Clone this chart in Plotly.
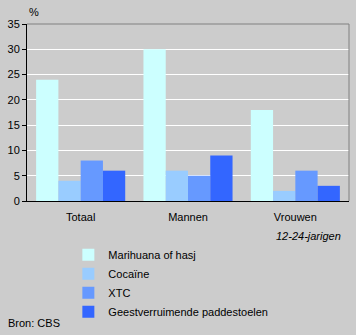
import plotly.graph_objects as go

categories = ["Totaal", "Mannen", "Vrouwen"]
series_names = ["Marihuana of hasj", "Cocaïne", "XTC", "Geestverruimende paddestoelen"]
marihuana = [24, 30, 18]
cocaine = [4, 6, 2]
xtc = [8, 5, 6]
paddestoelen = [6, 9, 3]
colors = ["#CCFFFF", "#99CCFF", "#6699FF", "#3366FF"]

fig = go.Figure()
for name, vals, col in zip(series_names, [marihuana, cocaine, xtc, paddestoelen], colors):
    fig.add_trace(go.Bar(x=categories, y=vals, name=name, marker=dict(color=col, line=dict(width=0))))

font = "Liberation Sans, Arial, sans-serif"
fig.update_layout(
    width=356, height=335,
    margin=dict(l=27, r=7, t=24, b=134, autoexpand=False),
    paper_bgcolor="#CCCCCC", plot_bgcolor="#CCCCCC",
    barmode="group", bargap=0.17, bargroupgap=0,
    font=dict(family=font, size=11, color="black"),
    showlegend=True,
    legend=dict(xref="container", yref="container", x=0.192, y=0.283,
                xanchor="left", yanchor="top",
                bgcolor="rgba(0,0,0,0)", font=dict(size=11), tracegroupgap=0,
                itemwidth=30),
    xaxis=dict(showline=True, linecolor="black", linewidth=1, ticks="",
               showgrid=False, tickfont=dict(size=11), ticklabelstandoff=6),
    yaxis=dict(range=[0, 35], dtick=5, showline=True, linecolor="black", linewidth=1,
               ticks="outside", ticklen=4, tickcolor="black",
               showgrid=True, gridcolor="white", gridwidth=1, zeroline=False),
    annotations=[
        dict(text="%", xref="paper", yref="paper", x=0.0, y=1.0, xanchor="left", yanchor="bottom",
             yshift=4, showarrow=False, font=dict(size=11)),
        dict(text="<i>12-24-jarigen</i>", xref="paper", yref="paper", x=0.981, y=-0.153,
             xanchor="right", yanchor="top", showarrow=False, font=dict(size=11)),
        dict(text="Bron: CBS", xref="paper", yref="paper", x=-0.065, y=-0.645,
             xanchor="left", yanchor="top", showarrow=False, font=dict(size=11)),
    ],
    shapes=[
        dict(type="line", xref="paper", yref="paper", x0=0, x1=1, y0=1, y1=1,
             line=dict(color="#808080", width=1)),
        dict(type="line", xref="paper", yref="paper", x0=1, x1=1, y0=0, y1=1,
             line=dict(color="#808080", width=1)),
    ],
)
fig.write_html("out.html")
